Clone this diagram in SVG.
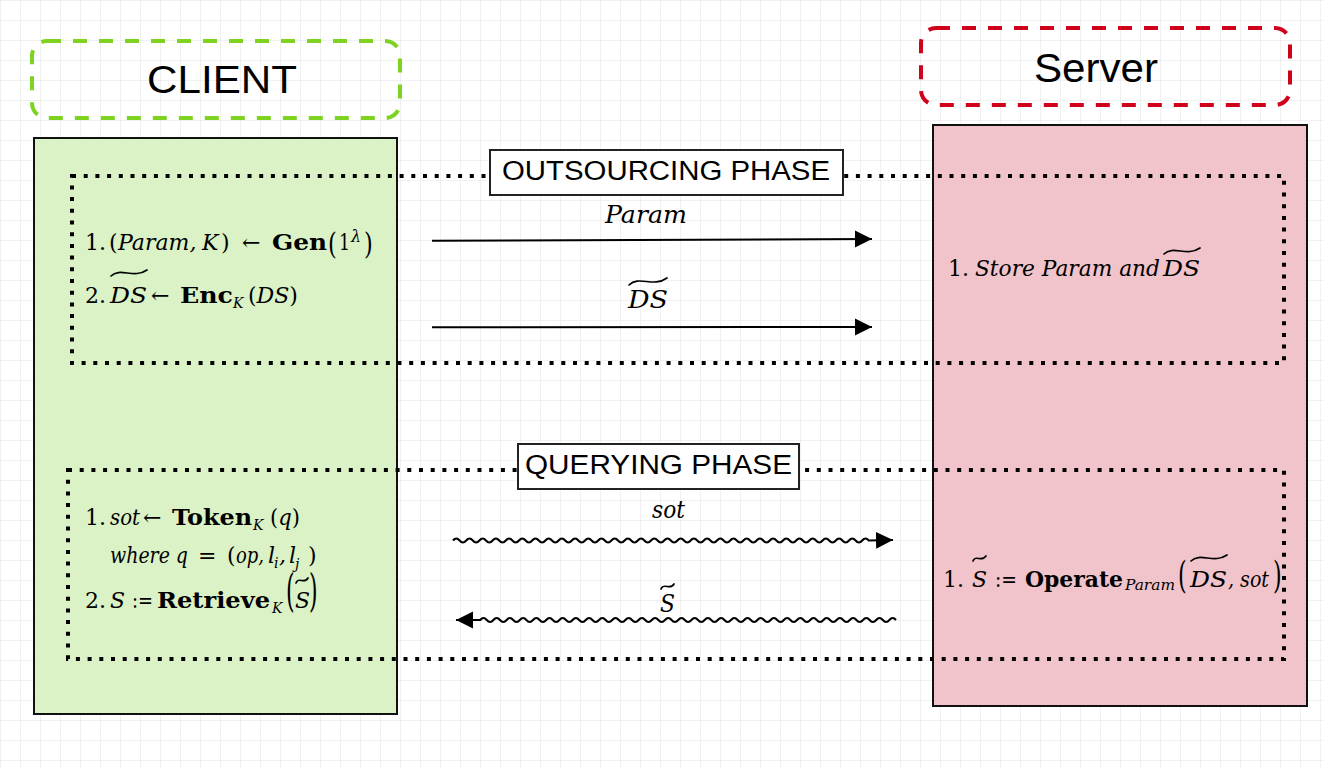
<svg xmlns="http://www.w3.org/2000/svg" width="1324" height="768" viewBox="0 0 1324 768">
<defs>
<pattern id="grid" width="20" height="20" patternUnits="userSpaceOnUse">
<path d="M 20 0 L 0 0 0 20" fill="none" stroke="#e3e3e3" stroke-width="1"/>
</pattern>
<marker id="ah" markerUnits="userSpaceOnUse" markerWidth="18" markerHeight="18" viewBox="0 0 18 17" refX="17" refY="8.5" orient="auto">
<path d="M0,0 L17,8.5 L0,17 z" fill="#000"/>
</marker>
<style>
.t{font-family:"Liberation Sans",Arial,sans-serif;fill:#000}
.m{font-family:"DejaVu Serif","Liberation Serif",serif;font-size:22px;fill:#000}
.i{font-style:italic}
.b{font-weight:bold}
.lbl{font-size:25px}
.sub{font-size:14px;font-style:italic}
.tl{fill:none;stroke:#000;stroke-width:1.7;stroke-linecap:round}
.dot{fill:none;stroke:#000;stroke-width:4;stroke-dasharray:4 7.7}
.conn{fill:none;stroke:#000;stroke-width:2}
</style>
</defs>
<rect width="1324" height="768" fill="#ffffff"/>
<rect width="1324" height="768" fill="url(#grid)"/>

<g id="client-title">
<rect x="32" y="41" width="368" height="77" rx="15" fill="none" stroke="#7ed321" stroke-width="4" stroke-dasharray="14 12"/>
<text class="t" x="222" y="93" font-size="39" text-anchor="middle" textLength="150" lengthAdjust="spacingAndGlyphs">CLIENT</text>
</g>
<g id="server-title">
<rect x="921" y="28" width="369" height="77" rx="15" fill="none" stroke="#d0021b" stroke-width="4" stroke-dasharray="14 12"/>
<text class="t" x="1096" y="82" font-size="40" text-anchor="middle" textLength="124" lengthAdjust="spacingAndGlyphs">Server</text>
</g>

<g id="client-panel">
<rect x="34" y="138" width="363" height="576" fill="#dbf2c6" stroke="#111" stroke-width="2"/>
</g>
<g id="server-panel">
<rect x="933" y="125" width="374" height="581" fill="#f0c4ca" stroke="#111" stroke-width="2"/>
</g>

<g id="outsourcing-phase">
<rect x="72" y="176" width="1212" height="187" fill="#ffffff" fill-opacity="0.35" class="dot"/>
<rect x="490" y="150" width="353" height="45" fill="#ffffff" stroke="#222" stroke-width="2"/>
<text class="t" x="666" y="180" font-size="27" text-anchor="middle" textLength="328" lengthAdjust="spacingAndGlyphs">OUTSOURCING PHASE</text>
</g>
<g id="querying-phase">
<rect x="68" y="470" width="1216" height="189" fill="#f2f2f2" fill-opacity="0.45" class="dot"/>
<rect x="518" y="444" width="281" height="45" fill="#ffffff" stroke="#222" stroke-width="2"/>
<text class="t" x="658.5" y="474" font-size="27" text-anchor="middle" textLength="267" lengthAdjust="spacingAndGlyphs">QUERYING PHASE</text>
</g>

<g id="connectors">
<line class="conn" x1="432" y1="240.7" x2="872" y2="239" marker-end="url(#ah)"/>
<line class="conn" x1="432" y1="327.3" x2="872" y2="327" marker-end="url(#ah)"/>
<path class="conn" marker-end="url(#ah)" d="M453 540.5 q3.3 -4 6.6 0 t6.6 0 t6.6 0 t6.6 0 t6.6 0 t6.6 0 t6.6 0 t6.6 0 t6.6 0 t6.6 0 t6.6 0 t6.6 0 t6.6 0 t6.6 0 t6.6 0 t6.6 0 t6.6 0 t6.6 0 t6.6 0 t6.6 0 t6.6 0 t6.6 0 t6.6 0 t6.6 0 t6.6 0 t6.6 0 t6.6 0 t6.6 0 t6.6 0 t6.6 0 t6.6 0 t6.6 0 t6.6 0 t6.6 0 t6.6 0 t6.6 0 t6.6 0 t6.6 0 t6.6 0 t6.6 0 t6.6 0 t6.6 0 t6.6 0 t6.6 0 t6.6 0 t6.6 0 t6.6 0 t6.6 0 t6.6 0 t6.6 0 t6.6 0 t6.6 0 t6.6 0 t6.6 0 t6.6 0 t6.6 0 t6.6 0 t6.6 0 t6.6 0 t6.6 0 t6.6 0 t6.6 0 t6.6 0 L 893 540"/>
<path class="conn" marker-end="url(#ah)" d="M896 620 q-3.3 -4 -6.6 0 t-6.6 0 t-6.6 0 t-6.6 0 t-6.6 0 t-6.6 0 t-6.6 0 t-6.6 0 t-6.6 0 t-6.6 0 t-6.6 0 t-6.6 0 t-6.6 0 t-6.6 0 t-6.6 0 t-6.6 0 t-6.6 0 t-6.6 0 t-6.6 0 t-6.6 0 t-6.6 0 t-6.6 0 t-6.6 0 t-6.6 0 t-6.6 0 t-6.6 0 t-6.6 0 t-6.6 0 t-6.6 0 t-6.6 0 t-6.6 0 t-6.6 0 t-6.6 0 t-6.6 0 t-6.6 0 t-6.6 0 t-6.6 0 t-6.6 0 t-6.6 0 t-6.6 0 t-6.6 0 t-6.6 0 t-6.6 0 t-6.6 0 t-6.6 0 t-6.6 0 t-6.6 0 t-6.6 0 t-6.6 0 t-6.6 0 t-6.6 0 t-6.6 0 t-6.6 0 t-6.6 0 t-6.6 0 t-6.6 0 t-6.6 0 t-6.6 0 t-6.6 0 t-6.6 0 t-6.6 0 t-6.6 0 t-6.6 0 L 456 620"/>
</g>

<g id="connector-labels">
<text class="m i lbl" x="605" y="223" textLength="82" lengthAdjust="spacingAndGlyphs">Param</text>
<text class="m i lbl" x="628" y="308" textLength="40" lengthAdjust="spacingAndGlyphs">DS</text>
<path class="tl" d="M629 285 C639 275 653 288 667 278"/>
<text class="m i lbl" x="652" y="518" textLength="33" lengthAdjust="spacingAndGlyphs">sot</text>
<text class="m i lbl" x="660" y="612" textLength="15" lengthAdjust="spacingAndGlyphs">S</text>
<path class="tl" d="M661 589 C664 582 670 591 674 584"/>
</g>

<g id="client-outsourcing-text">
<text class="m" y="250"><tspan x="85">1.</tspan><tspan x="109">(</tspan><tspan x="118" class="i">Param,</tspan><tspan x="202" class="i">K</tspan><tspan x="221">)</tspan><tspan x="242">←</tspan></text>
<text class="m b" x="272" y="250" textLength="55" lengthAdjust="spacingAndGlyphs">Gen</text>
<text class="m" transform="translate(328 254) scale(0.75 1)" style="font-size:30px">(</text>
<text class="m" x="339" y="250" textLength="11" lengthAdjust="spacingAndGlyphs">1</text>
<text class="m i" x="351" y="242" style="font-size:16px">λ</text>
<text class="m" transform="translate(364 254) scale(0.75 1)" style="font-size:30px">)</text>
<text class="m" x="85" y="303">2.</text>
<text class="m i" x="110" y="303" textLength="37" lengthAdjust="spacingAndGlyphs">DS</text>
<path class="tl" d="M111 276 C120 267 134 279 147 270"/>
<text class="m" x="151" y="303">←</text>
<text class="m b" x="180" y="303" textLength="53" lengthAdjust="spacingAndGlyphs">Enc</text>
<text class="m sub" x="233" y="308">K</text>
<text class="m" x="248" y="303" textLength="50" lengthAdjust="spacingAndGlyphs">(<tspan class="i">DS</tspan>)</text>
</g>

<g id="client-querying-text">
<text class="m" x="85" y="525">1.</text>
<text class="m i" x="110" y="525" textLength="30" lengthAdjust="spacingAndGlyphs">sot</text>
<text class="m" x="143" y="525">←</text>
<text class="m b" x="172" y="525" textLength="80" lengthAdjust="spacingAndGlyphs">Token</text>
<text class="m sub" x="253" y="530">K</text>
<text class="m" x="270" y="525" textLength="30" lengthAdjust="spacingAndGlyphs">(<tspan class="i">q</tspan>)</text>
<text class="m i" x="110" y="563" textLength="78" lengthAdjust="spacingAndGlyphs">where q</text>
<text class="m" x="198" y="563">=</text>
<text class="m" x="227" y="563">(</text>
<text class="m i" x="236" y="563" textLength="28" lengthAdjust="spacingAndGlyphs">op,</text>
<text class="m i" x="268" y="563">l</text>
<text class="m sub" x="274" y="568">i</text>
<text class="m i" x="279" y="563">,</text>
<text class="m i" x="289" y="563">l</text>
<text class="m sub" x="295" y="569">j</text>
<text class="m" x="308" y="563">)</text>
<text class="m" x="85" y="608">2.</text>
<text class="m i" x="110" y="608">S</text>
<text class="m" x="132" y="608" textLength="21" lengthAdjust="spacingAndGlyphs">:=</text>
<text class="m b" x="157" y="608" textLength="113" lengthAdjust="spacingAndGlyphs">Retrieve</text>
<text class="m sub" x="272" y="613">K</text>
<text class="m" transform="translate(286 606) scale(0.5 1)" style="font-size:44px">(</text>
<text class="m i" x="295" y="608">S</text>
<path class="tl" d="M296 583 C299 576 304 585 308 578"/>
<text class="m" transform="translate(309 606) scale(0.5 1)" style="font-size:44px">)</text>
</g>

<g id="server-outsourcing-text">
<text class="m" x="948" y="276">1.</text>
<text class="m i" x="975" y="276" textLength="185" lengthAdjust="spacingAndGlyphs">Store Param and</text>
<text class="m i" x="1163" y="276" textLength="37" lengthAdjust="spacingAndGlyphs">DS</text>
<path class="tl" d="M1164 254 C1173 245 1187 257 1200 248"/>
</g>

<g id="server-querying-text">
<text class="m" x="943" y="587">1.</text>
<text class="m i" x="972" y="587">S</text>
<path class="tl" d="M973 561 C976 554 981 563 986 556"/>
<text class="m" x="995" y="587" textLength="22" lengthAdjust="spacingAndGlyphs">:=</text>
<text class="m b" x="1025" y="587" textLength="98" lengthAdjust="spacingAndGlyphs">Operate</text>
<text class="m sub" x="1125" y="590" textLength="50" lengthAdjust="spacingAndGlyphs">Param</text>
<text class="m" transform="translate(1178 588) scale(0.6 1)" style="font-size:37px">(</text>
<text class="m i" x="1190" y="587" textLength="37" lengthAdjust="spacingAndGlyphs">DS</text>
<path class="tl" d="M1191 561 C1200 552 1214 564 1227 555"/>
<text class="m i" x="1228" y="587" textLength="41" lengthAdjust="spacingAndGlyphs">, sot</text>
<text class="m" transform="translate(1273 588) scale(0.6 1)" style="font-size:37px">)</text>
</g>
</svg>
